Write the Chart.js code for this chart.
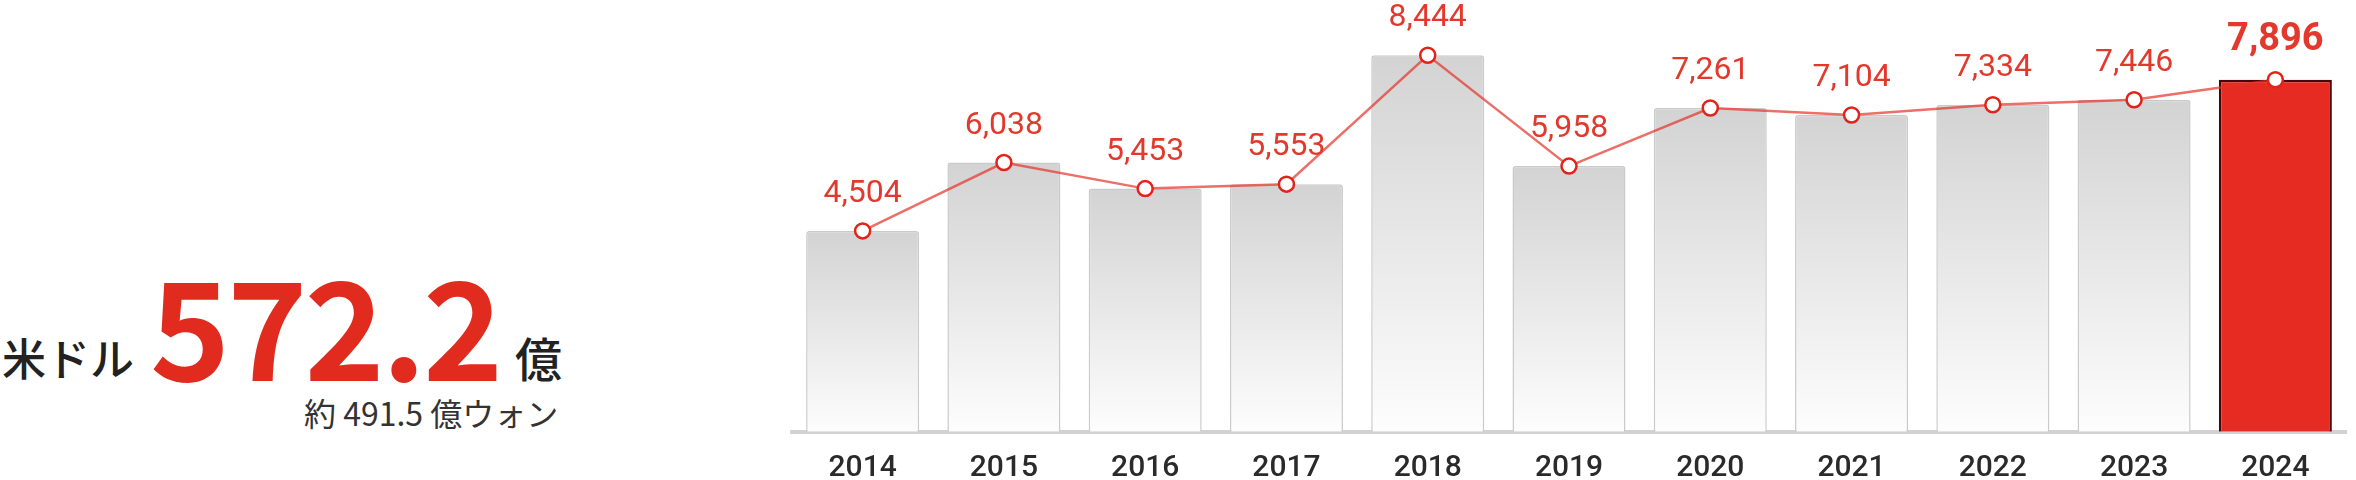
<!DOCTYPE html>
<html>
<head>
<meta charset="utf-8">
<script src="https://cdn.jsdelivr.net/npm/chart.js@4.4.1/dist/chart.umd.min.js"></script>
<style>
  html, body { margin: 0; padding: 0; background: #fff; }
  body { width: 2356px; height: 480px; position: relative; overflow: hidden; }
  #chart { position: absolute; left: 780px; top: 0; }
  .t { position: absolute; white-space: nowrap; font-family: "Noto Sans CJK JP", "Noto Sans", sans-serif; line-height: 1; }
  #unit1 { left: 2px; top: 335px; font-size: 44px; font-weight: 500; color: #222; }
  #big { left: 150px; top: 254px; font-size: 136px; font-weight: 700; color: #e12b1f; letter-spacing: -3px; }
  #unit2 { left: 515px; top: 333px; font-size: 47px; font-weight: 500; color: #222; }
  #sub { left: 304px; top: 396px; font-size: 32px; font-weight: 400; color: #333; }
</style>
</head>
<body>
<div class="t" id="unit1">米ドル</div>
<div class="t" id="big">572.2</div>
<div class="t" id="unit2">億</div>
<div class="t" id="sub">約 491.5 億ウォン</div>
<canvas id="chart" width="1576" height="480"></canvas>
<script>
const years = ['2014', '2015', '2016', '2017', '2018', '2019', '2020', '2021', '2022', '2023', '2024'];
const values = [4504, 6038, 5453, 5553, 8444, 5958, 7261, 7104, 7334, 7446, 7896];

const lastIdx = values.length - 1;

// per-bar vertical gradient, light gray on top fading to white
function barFill(context) {
  const chart = context.chart;
  const area = chart.chartArea;
  if (!area) return '#ddd';
  if (context.dataIndex === lastIdx) return '#e52b22';
  const top = chart.scales.y.getPixelForValue(values[context.dataIndex]);
  const g = chart.ctx.createLinearGradient(0, top, 0, area.bottom);
  g.addColorStop(0, '#d3d3d3');
  g.addColorStop(1, '#fdfdfd');
  return g;
}

const valueLabels = {
  id: 'valueLabels',
  afterDatasetsDraw(chart) {
    const meta = chart.getDatasetMeta(0);
    const ctx = chart.ctx;
    ctx.save();
    ctx.textAlign = 'center';
    ctx.textBaseline = 'alphabetic';
    ctx.fillStyle = '#e3382c';
    meta.data.forEach((pt, i) => {
      const last = i === lastIdx;
      ctx.font = (last ? 'bold 38px' : '32px') + ' Roboto';
      ctx.fillText(values[i].toLocaleString('en-US'), pt.x, pt.y - (last ? 30 : 29));
    });
    ctx.restore();
  }
};

new Chart(document.getElementById('chart').getContext('2d'), {
  type: 'bar',
  data: {
    labels: years,
    datasets: [{
      type: 'line',
      data: values,
      order: 0,
      borderColor: 'rgba(228,50,40,0.7)',
      borderWidth: 2.5,
      pointRadius: 7.5,
      pointBorderWidth: 2.5,
      pointBorderColor: '#e2231a',
      pointBackgroundColor: '#fff',
      tension: 0
    }, {
      data: values,
      order: 1,
      backgroundColor: barFill,
      borderColor: years.map((y, i) => i === lastIdx ? '#4a0606' : '#cacaca'),
      borderWidth: years.map((y, i) => i === lastIdx ? 2.5 : 1.5),
      borderSkipped: 'bottom',
      borderRadius: years.map((y, i) => i === lastIdx ? 0 : 3),
      categoryPercentage: 0.8,
      barPercentage: 1
    }]
  },
  options: {
    responsive: false,
    animation: false,
    devicePixelRatio: 1,
    layout: { padding: { left: 12, right: 2, top: 0, bottom: 0 } },
    plugins: { legend: { display: false }, tooltip: { enabled: false } },
    scales: {
      x: {
        z: 1,
        grid: { display: false, drawTicks: false },
        border: { display: true, color: '#d2d2d2', width: 4 },
        ticks: { padding: 19, color: '#2a2a2a', font: { family: 'Roboto', size: 30, weight: 500 } },
        afterFit(scale) { scale.height = 48.3; }
      },
      y: { display: false, min: 0, max: 9460 }
    }
  },
  plugins: [valueLabels]
});
</script>
</body>
</html>
